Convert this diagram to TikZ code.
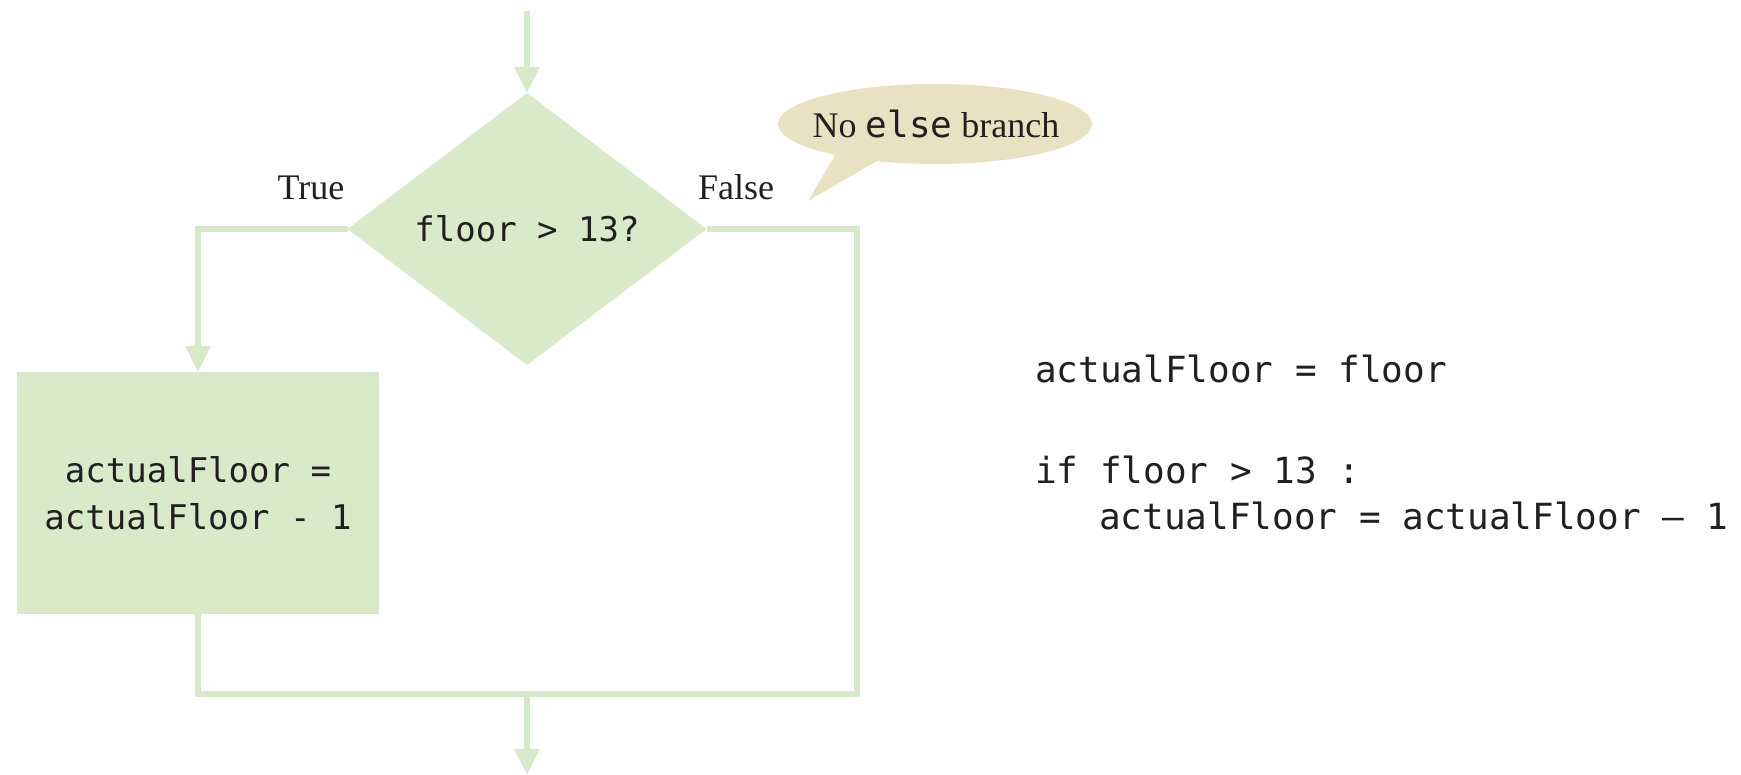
\documentclass[tikz,border=0pt]{standalone}
\usepackage{fontspec}
\setmainfont{Liberation Serif}
\setmonofont{DejaVu Sans Mono}
\usetikzlibrary{shapes.geometric,arrows.meta}
\definecolor{flowgreen}{HTML}{D8EACA}
\definecolor{linegreen}{HTML}{D6E9C8}
\definecolor{calloutfill}{HTML}{E8E2C2}
\definecolor{ink}{HTML}{231F20}
\begin{document}
\begin{tikzpicture}[x=1pt,y=-1pt,
  flow/.style={draw=linegreen, line width=6pt, line join=miter},
  arr/.style={flow, -{Triangle[width=24pt,length=26pt]}},
  decision/.style={diamond, fill=flowgreen, minimum width=359pt, minimum height=272pt,
    inner sep=0pt, outer sep=0pt, font=\fontsize{34}{40}\selectfont\ttfamily, text=ink},
  process/.style={rectangle, fill=flowgreen, minimum width=362pt, minimum height=242pt,
    inner sep=0pt, outer sep=0pt, align=center, font=\fontsize{34}{47}\selectfont\ttfamily, text=ink},
  lbl/.style={font=\fontsize{36}{40}\selectfont, text=ink, inner sep=0pt, anchor=base},
  codeline/.style={font=\fontsize{36}{45}\selectfont\ttfamily, text=ink, inner sep=0pt, anchor=base west},
  bubbletext/.style={inner sep=0pt, font=\fontsize{36}{40}\selectfont, text=ink},
]
\useasboundingbox (0,0) rectangle (1741,775);

% nodes
\node[decision] (dia) at (527,229) {floor > 13?};
\node[process] (box) at (198,493) {actualFloor =\\ actualFloor - 1};

% callout
\fill[calloutfill] (838,150) -- (808,201) -- (882,158) -- cycle;
\fill[calloutfill] (935,124) ellipse [x radius=157, y radius=40];
\node[bubbletext] (note) at (936,124) {No \texttt{else} branch};

% labels
\node[lbl] (true) at (311,200) {True};
\node[lbl] (false) at (736,200) {False};

% coordinates
\coordinate (start) at (527,11);
\coordinate (rb) at (857,694);
\coordinate (merge) at (527,694);
\coordinate (stop) at (527,775);

% connectors
\draw[arr] (start) -- (dia.north);
\draw[arr] (dia.west) -| (box.north);
\draw[flow] (box.south) |- (rb) |- (dia.east);
\draw[arr] (merge) -- (stop);

% code
\node[codeline] (c1) at (1035,383) {actualFloor = floor};
\node[codeline] (c2) at (1035,483) {if floor > 13 :};
\node[codeline] (c3) at (1099,529) {actualFloor = actualFloor – 1};
\end{tikzpicture}
\end{document}
